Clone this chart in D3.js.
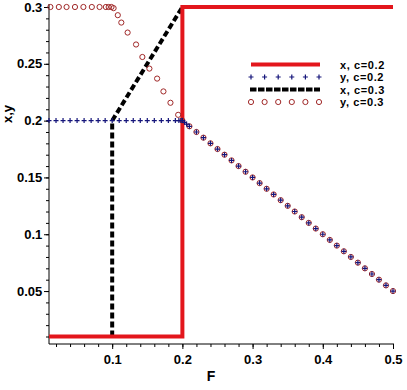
<!DOCTYPE html>
<html>
<head>
<meta charset="utf-8">
<script src="https://cdn.jsdelivr.net/npm/d3@7"></script>
<style>
  body { margin: 0; background: #fff; }
  text { font-family: "Liberation Sans", Arial, sans-serif; font-weight: bold; }
</style>
</head>
<body>
<svg width="407" height="390"></svg>
<script>
// x, c=0.2 (solid red)
var xc02F = [0.01, 0.2, 0.2, 0.5];
var xc02V = [0.01, 0.01, 0.3, 0.3];

// x, c=0.3 (black dash); flat parts lie under the red line
var xc03F = [0.1, 0.1, 0.2];
var xc03V = [0.01, 0.2, 0.3];

// y, c=0.2 (crosses) before the drop
var yc02F = [0.01, 0.02, 0.03, 0.04, 0.05, 0.06, 0.07, 0.08, 0.09, 0.1,
  0.11, 0.12, 0.13, 0.14, 0.15, 0.16, 0.17, 0.18, 0.19, 0.195, 0.198, 0.2, 0.203, 0.206];
var yc02V = [0.2, 0.2, 0.2, 0.2, 0.2, 0.2, 0.2, 0.2, 0.2, 0.2,
  0.2, 0.2, 0.2, 0.2, 0.2, 0.2, 0.2, 0.2, 0.2, 0.2, 0.2, 0.2, 0.1985, 0.197];

// y, c=0.3 (circles) before the drop
var yc03F = [0.012, 0.024, 0.035, 0.047, 0.059, 0.071, 0.082, 0.091, 0.095, 0.099, 0.102,
  0.108, 0.113, 0.122, 0.134, 0.143, 0.153, 0.164, 0.173, 0.183, 0.194, 0.2];
var yc03V = [0.3, 0.3, 0.3, 0.3, 0.3, 0.3, 0.3, 0.3, 0.3, 0.3, 0.299,
  0.2928, 0.2863, 0.2775, 0.267, 0.256, 0.2458, 0.237, 0.2257, 0.2157, 0.2051, 0.2];

// shared tail, both y series
var tailF = [0.21, 0.22, 0.23, 0.24, 0.25, 0.26, 0.27, 0.28, 0.29, 0.3,
  0.31, 0.32, 0.33, 0.34, 0.35, 0.36, 0.37, 0.38, 0.39, 0.4,
  0.41, 0.42, 0.43, 0.44, 0.45, 0.46, 0.47, 0.48, 0.49, 0.5];
var tailV = [0.195, 0.19, 0.185, 0.18, 0.175, 0.17, 0.165, 0.16, 0.155, 0.15,
  0.145, 0.14, 0.135, 0.13, 0.125, 0.12, 0.115, 0.11, 0.105, 0.1,
  0.095, 0.09, 0.085, 0.08, 0.075, 0.07, 0.065, 0.06, 0.055, 0.05];

var xTicks = [0.1, 0.2, 0.3, 0.4, 0.5];
var yTicks = [0.05, 0.1, 0.15, 0.2, 0.25, 0.3];
var legendLabels = ["x, c=0.2", "y, c=0.2", "x, c=0.3", "y, c=0.3"];

var RED = "#e3161c", NAVY = "#14147a", BROWN = "#a02828";

var svg = d3.select("svg");
var x = d3.scaleLinear().domain([0.01, 0.5]).range([49, 393]);
var y = d3.scaleLinear().domain([0.0034, 0.3]).range([344, 7]);

function zip(a, b) { return a.map(function (v, i) { return [v, b[i]]; }); }
var line = d3.line().x(function (d) { return x(d[0]); }).y(function (d) { return y(d[1]); });

// axes
var xAxis = svg.append("g").attr("transform", "translate(0,344)")
  .call(d3.axisBottom(x).tickValues(d3.range(0.02, 0.501, 0.02)).tickSize(3).tickFormat(""));
xAxis.append("g").call(d3.axisBottom(x).tickValues(xTicks).tickSize(5).tickFormat(d3.format(".1f")));
var yAxis = svg.append("g").attr("transform", "translate(49,0)")
  .call(d3.axisLeft(y).tickValues(d3.range(0.01, 0.301, 0.01)).tickSize(3).tickFormat(""));
yAxis.append("g").call(d3.axisLeft(y).tickValues(yTicks).tickSize(5).tickFormat(function (d) { return +d.toFixed(2) + ""; }));
svg.selectAll(".domain").remove();
svg.selectAll(".tick line").attr("stroke", "#000");
svg.selectAll(".tick text").attr("fill", "#000").style("font-size", "13px");
xAxis.selectAll(".tick text").attr("dy", "0.95em");
yAxis.selectAll(".tick text").attr("dx", "0.1em");
svg.append("line").attr("x1", 49).attr("x2", 49).attr("y1", 4).attr("y2", 344).attr("stroke", "#000");
svg.append("line").attr("x1", 49).attr("x2", 394).attr("y1", 344).attr("y2", 344).attr("stroke", "#000");

svg.append("text").attr("x", 211).attr("y", 381).attr("text-anchor", "middle").style("font-size", "14px").text("F");
svg.append("text").attr("transform", "translate(12,114) rotate(-90)").attr("text-anchor", "middle")
  .style("font-size", "13px").text("x,y");

// lines
svg.append("path").datum(zip(xc03F, xc03V)).attr("d", line).attr("fill", "none")
  .attr("stroke", "#000").attr("stroke-width", 4).attr("stroke-dasharray", "6,3");
svg.append("path").datum(zip(xc02F, xc02V)).attr("d", line).attr("fill", "none")
  .attr("stroke", RED).attr("stroke-width", 4).attr("stroke-linejoin", "miter");

// points
function cross(g, cx, cy) {
  g.append("path").attr("d", "M" + (cx - 2.5) + "," + cy + "h5M" + cx + "," + (cy - 2.5) + "v5")
    .attr("stroke", NAVY).attr("stroke-width", 1.2).attr("fill", "none");
}
function ring(g, cx, cy) {
  g.append("circle").attr("cx", cx).attr("cy", cy).attr("r", 2.6)
    .attr("fill", "none").attr("stroke", BROWN).attr("stroke-width", 1);
}
var pts = svg.append("g");
zip(yc03F, yc03V).concat(zip(tailF, tailV)).forEach(function (d) { ring(pts, x(d[0]), y(d[1])); });
zip(yc02F, yc02V).concat(zip(tailF, tailV)).forEach(function (d) { cross(pts, x(d[0]), y(d[1])); });

// legend (rows a bit wider apart than the original so the labels don't collide)
var lg = svg.append("g");
var ly = [64.5, 77, 89.5, 102];
lg.append("line").attr("x1", 251).attr("x2", 320).attr("y1", ly[0]).attr("y2", ly[0])
  .attr("stroke", RED).attr("stroke-width", 4);
lg.append("line").attr("x1", 250).attr("x2", 320).attr("y1", ly[2]).attr("y2", ly[2])
  .attr("stroke", "#000").attr("stroke-width", 4).attr("stroke-dasharray", "6.5,1.5");
d3.range(6).forEach(function (i) {
  cross(lg, 251 + i * 13.6, ly[1]);
  ring(lg, 251 + i * 13.6, ly[3]);
});
lg.selectAll("text.lab").data(legendLabels).enter().append("text").attr("class", "lab")
  .attr("x", 340).attr("y", function (d, i) { return ly[i] + 4; })
  .style("font-size", "11px").style("letter-spacing", "0.6px")
  .text(function (d) { return d; });
</script>
</body>
</html>
